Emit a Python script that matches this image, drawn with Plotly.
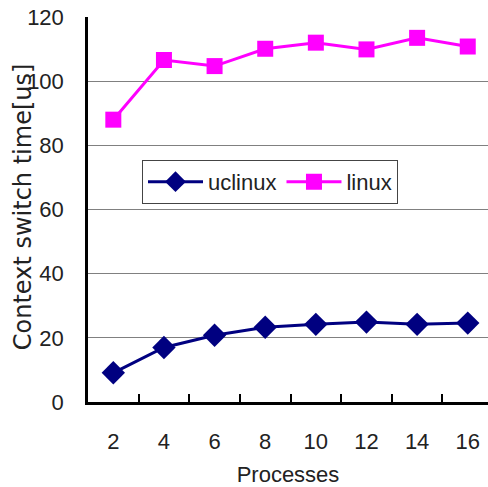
import plotly.graph_objects as go

processes = ["2", "4", "6", "8", "10", "12", "14", "16"]
uclinux = [9.1, 17.0, 20.8, 23.3, 24.2, 24.9, 24.2, 24.6]
linux = [88.0, 106.6, 104.7, 110.1, 112.0, 109.9, 113.5, 110.8]
y_ticks = [0, 20, 40, 60, 80, 100, 120]
y_title = "Context switch time[us]"

FONT = "Liberation Sans, Arial, sans-serif"
TITLE_FONT = "DejaVu Sans, sans-serif"

fig = go.Figure()
fig.add_trace(go.Scatter(
    x=processes, y=uclinux, name="uclinux", mode="lines+markers",
    line=dict(color="#000080", width=3),
    marker=dict(symbol="diamond", size=18, color="#000080"),
))
fig.add_trace(go.Scatter(
    x=processes, y=linux, name="linux", mode="lines+markers",
    line=dict(color="#FF00FF", width=3),
    marker=dict(symbol="square", size=16, color="#FF00FF"),
))

fig.update_layout(
    width=488, height=487,
    margin=dict(l=88, r=0, t=17, b=85, autoexpand=False),
    paper_bgcolor="white", plot_bgcolor="white",
    font=dict(family=FONT, size=22, color="#222222"),
    showlegend=True,
    legend=dict(
        orientation="h", x=0.135, y=0.629, xanchor="left", yanchor="top",
        bordercolor="#444444", borderwidth=1, bgcolor="white",
        font=dict(size=22), itemwidth=55, tracegroupgap=0,
    ),
    xaxis=dict(
        type="category", range=[-0.5, 7.4], automargin=False,
        tickson="boundaries", ticks="inside", ticklen=8, tickwidth=1.5,
        tickcolor="black",
        showline=True, linecolor="black", linewidth=2.5,
        showgrid=False, zeroline=False,
        ticklabelstandoff=18, ticklabeloverflow="allow",
        title=dict(text="Processes", standoff=18,
                   font=dict(family=FONT, size=22)),
    ),
    yaxis=dict(
        range=[0, 120], tickvals=y_ticks, ticks="", automargin=False,
        showline=True, linecolor="black", linewidth=2.5,
        showgrid=True, gridcolor="#808080", gridwidth=1.2,
        zeroline=False, ticklabelstandoff=17, ticklabeloverflow="allow",
    ),
    annotations=[dict(
        text=y_title, textangle=-90, showarrow=False,
        xref="paper", yref="paper", x=-0.1625, y=0.506,
        xanchor="center", yanchor="middle",
        font=dict(family=TITLE_FONT, size=24, color="#222222"),
    )],
)

fig.write_html(
    "out.html",
    config={"displayModeBar": False},
    post_script="document.body.style.margin='0';document.body.style.overflow='hidden';",
)
